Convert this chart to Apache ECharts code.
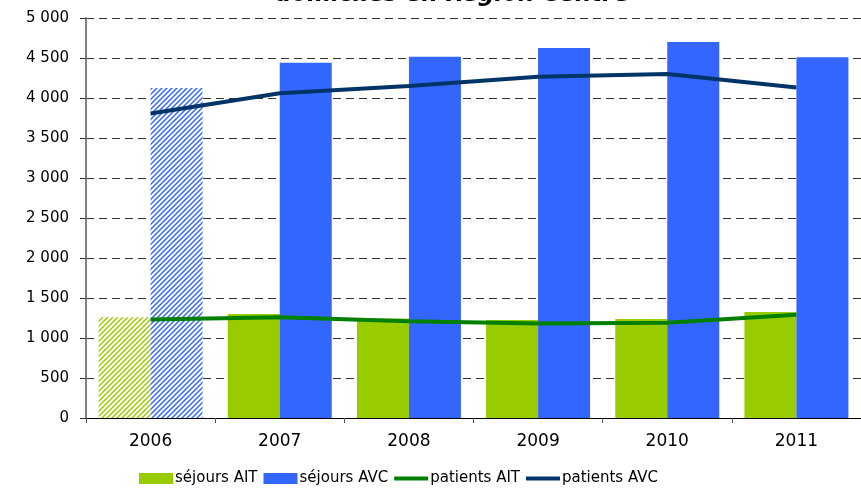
<!DOCTYPE html>
<html>
<head>
<meta charset="utf-8">
<script src="https://cdn.jsdelivr.net/npm/echarts@6/dist/echarts.min.js"></script>
<style>
  html, body { margin: 0; padding: 0; background: #ffffff; }
  #chart { width: 861px; height: 488px; }
</style>
</head>
<body>
<div id="chart"></div>
<script>
// Séjours et patients AIT / AVC, domiciles en Région Centre
var years = ['2006', '2007', '2008', '2009', '2010', '2011'];
var sejoursAIT = [1260, 1300, 1245, 1225, 1237, 1325];
var sejoursAVC = [4125, 4440, 4515, 4625, 4700, 4510];
var patientsAIT = [1230, 1260, 1210, 1180, 1190, 1290];
var patientsAVC = [3805, 4060, 4150, 4265, 4300, 4130];
var yTicks = [0, 500, 1000, 1500, 2000, 2500, 3000, 3500, 4000, 4500, 5000];

var GREEN = '#99CC00';
var BLUE = '#3366FF';

// Diagonal-stripe fill used for the first year's bars
function stripes(color) {
  var p = 5, n = 10;
  var c = document.createElement('canvas');
  c.width = n; c.height = n;
  var ctx = c.getContext('2d');
  ctx.fillStyle = '#ffffff';
  ctx.fillRect(0, 0, n, n);
  ctx.strokeStyle = color;
  ctx.lineWidth = 1.5;
  for (var k = -3; k <= 4; k++) {
    ctx.beginPath();
    ctx.moveTo(k * p - p, n + p);
    ctx.lineTo(k * p + n + p, -p);
    ctx.stroke();
  }
  return { image: c, repeat: 'repeat' };
}

function barData(values, color) {
  return values.map(function (v, i) {
    if (i === 0) return { value: v, itemStyle: { color: stripes(color) } };
    return v;
  });
}

function fmt(v) {
  var s = String(v);
  if (s.length > 3) s = s.slice(0, s.length - 3) + ' ' + s.slice(s.length - 3);
  return s;
}

// thin bar used as legend key for the line series
var LINE_KEY = 'path://M0,0L0.01,0M0,11L0.01,11M0,3.5L34,3.5L34,7.5L0,7.5Z';

var chart = echarts.init(document.getElementById('chart'), null, { renderer: 'canvas' });
chart.setOption({
  animation: false,
  backgroundColor: '#ffffff',
  graphic: [{
    type: 'text',
    left: 275,
    top: -16,
    style: {
      text: 'domiciles en Région Centre',
      font: 'italic bold 23px "DejaVu Sans"',
      fill: '#000000'
    }
  }],
  legend: {
    left: 139,
    top: 471,
    padding: 0,
    itemWidth: 34,
    itemHeight: 11,
    itemGap: 6,
    textStyle: { fontFamily: 'DejaVu Sans', fontSize: 15, color: '#000', padding: [0, 0, 0, -3] },
    data: [
      { name: 'séjours AIT', icon: 'rect' },
      { name: 'séjours AVC', icon: 'rect' },
      { name: 'patients AIT', icon: LINE_KEY, itemStyle: { color: '#008000', borderWidth: 0 } },
      { name: 'patients AVC', icon: LINE_KEY, itemStyle: { color: '#003366', borderWidth: 0 } }
    ]
  },
  grid: { left: 86, right: -2, top: 18, bottom: 70, containLabel: false },
  xAxis: {
    type: 'category',
    data: years,
    axisLine: { lineStyle: { color: '#000000', width: 1 } },
    axisTick: { show: true, length: 5, lineStyle: { color: '#555' } },
    axisLabel: { fontFamily: 'DejaVu Sans', fontSize: 17, color: '#000', margin: 15 }
  },
  yAxis: {
    type: 'value',
    min: 0,
    max: 5000,
    interval: 500,
    axisLine: { show: true, lineStyle: { color: '#808080', width: 2 } },
    axisTick: { show: true, length: 6, lineStyle: { color: '#333' } },
    axisLabel: {
      fontFamily: 'DejaVu Sans', fontSize: 15, color: '#000', margin: 17,
      formatter: function (v) { return yTicks.indexOf(v) >= 0 ? fmt(v) : ''; }
    },
    splitLine: { show: true, lineStyle: { color: '#333', width: 1, type: [8, 5] } }
  },
  series: [
    {
      name: 'séjours AIT', type: 'bar', barWidth: 52, barGap: '0%',
      itemStyle: { color: GREEN },
      data: barData(sejoursAIT, GREEN)
    },
    {
      name: 'séjours AVC', type: 'bar', barWidth: 52, barGap: '0%',
      itemStyle: { color: BLUE },
      data: barData(sejoursAVC, BLUE)
    },
    {
      name: 'patients AIT', type: 'line', symbol: 'none',
      lineStyle: { color: '#008000', width: 4 },
      itemStyle: { color: '#008000' },
      data: patientsAIT
    },
    {
      name: 'patients AVC', type: 'line', symbol: 'none',
      lineStyle: { color: '#003366', width: 4 },
      itemStyle: { color: '#003366' },
      data: patientsAVC
    }
  ]
});
</script>
</body>
</html>
